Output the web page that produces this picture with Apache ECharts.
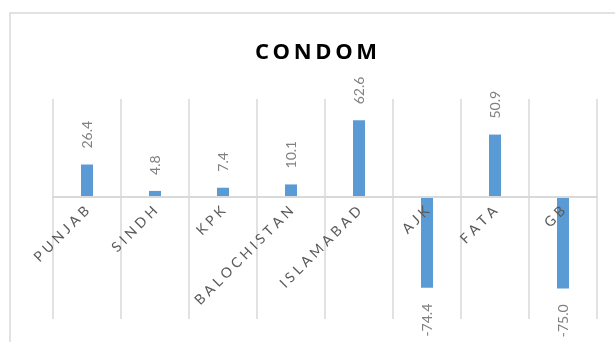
<!DOCTYPE html>
<html>
<head>
<meta charset="utf-8">
<style>
  html, body { margin: 0; padding: 0; background: #ffffff; }
  #chart { width: 615px; height: 342px; }
</style>
<script src="https://cdn.jsdelivr.net/npm/echarts@6/dist/echarts.min.js"></script>
</head>
<body>
<div id="chart"></div>
<script>
// Change in condom use by region (%)
const regions = ['PUNJAB', 'SINDH', 'KPK', 'BALOCHISTAN', 'ISLAMABAD', 'AJK', 'FATA', 'GB'];
const changes = [26.4, 4.8, 7.4, 10.1, 62.6, -74.4, 50.9, -75.0];
const chartTitle = 'CONDOM';

// spread letters out the way the category and title text is tracked
const spaced = (s, gap) => s.split('').join(gap);

const barData = changes.map(v => ({
  value: v,
  label: v >= 0
    ? { position: 'top', align: 'left', verticalAlign: 'middle' }
    : { position: 'bottom', align: 'right', verticalAlign: 'middle' }
}));

const chart = echarts.init(document.getElementById('chart'), null, { renderer: 'canvas' });
chart.setOption({
  animation: false,
  backgroundColor: '#ffffff',
  graphic: [{
    type: 'rect',
    shape: { x: 10, y: 13, width: 700, height: 400 },
    style: { fill: 'none', stroke: '#d9d9d9', lineWidth: 1.5 },
    silent: true,
    z: -1
  }],
  title: {
    text: spaced(chartTitle, '\u2009'),
    left: 311,
    textAlign: 'center',
    top: 37,
    textStyle: { fontFamily: 'Open Sans', fontWeight: 'bold', fontSize: 22, color: '#000000' }
  },
  grid: { left: 53, right: 18, top: 99, bottom: 23, containLabel: false, outerBoundsMode: 'none' },
  xAxis: [{
    // vertical dividers between regions
    type: 'category',
    data: regions,
    boundaryGap: true,
    axisLine: { show: false },
    axisTick: { show: false },
    axisLabel: { show: false },
    splitLine: { show: true, interval: 0, lineStyle: { color: '#d9d9d9', width: 1.5 } }
  }, {
    // baseline at zero with the region names hanging below it
    type: 'category',
    data: regions,
    position: 'bottom',
    boundaryGap: true,
    z: 3,
    axisLine: { onZero: false, lineStyle: { color: '#d9d9d9', width: 2 } },
    axisTick: { show: false },
    splitLine: { show: false },
    axisLabel: {
      interval: 0,
      rotate: 45,
      margin: 12,
      color: '#595959',
      fontFamily: 'Lato',
      fontSize: 14,
      formatter: v => spaced(v, ' ')
    }
  }],
  yAxis: {
    type: 'value',
    min: -100,
    max: 80,
    show: false,
    splitLine: { show: false }
  },
  series: [{
    type: 'bar',
    data: barData,
    barWidth: 12,
    itemStyle: { color: '#5b9bd5' },
    label: {
      show: true,
      rotate: 90,
      distance: 16,
      color: '#808080',
      fontFamily: 'Lato',
      fontSize: 14,
      formatter: p => p.value.toFixed(1)
    }
  }]
});

// lift the labelled baseline from the grid bottom up to the zero value
const zeroY = chart.convertToPixel({ yAxisIndex: 0 }, 0);
const bottomY = chart.convertToPixel({ yAxisIndex: 0 }, -100);
chart.setOption({ xAxis: [{}, { offset: zeroY - bottomY }] });
</script>
</body>
</html>
